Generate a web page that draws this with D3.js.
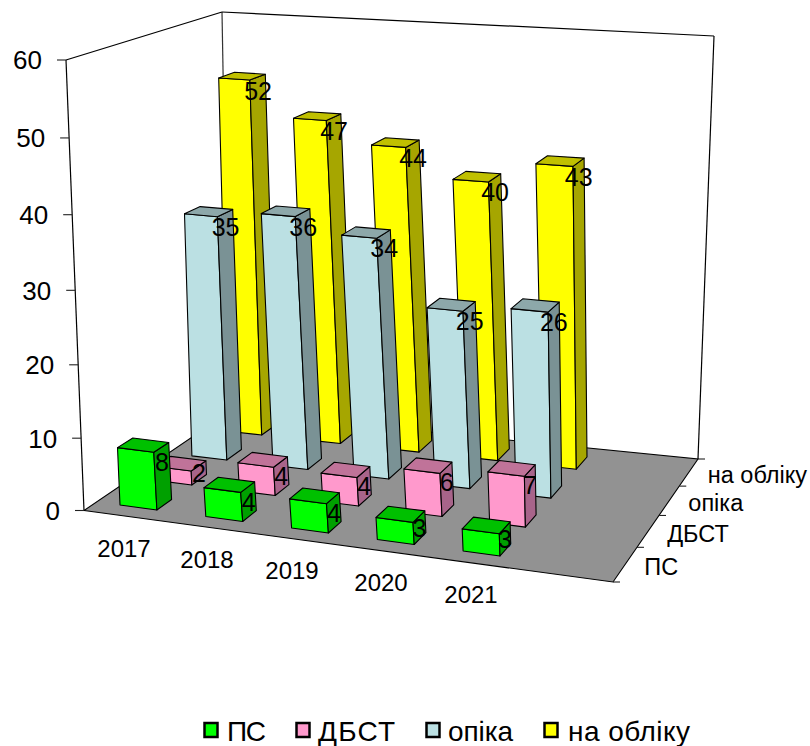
<!DOCTYPE html>
<html><head><meta charset="utf-8">
<script src="https://cdnjs.cloudflare.com/ajax/libs/d3/7.8.5/d3.min.js"></script>
<style>html,body{margin:0;padding:0;background:#fff}svg{display:block}text{font-family:"Liberation Sans",Arial,sans-serif;fill:#000}</style>
</head><body><svg id="c" width="810" height="746"></svg>
<script>
const categories=["2017","2018","2019","2020","2021"];
const seriesNames=["ПС","ДБСТ","опіка","на обліку"];
const psValues=[8,4,4,3,3];
const dbstValues=[2,4,4,6,7];
const opikaValues=[35,36,34,25,26];
const oblikValues=[52,47,44,40,43];
const yTicks=[0,10,20,30,40,50,60];
const allValues=[psValues,dbstValues,opikaValues,oblikValues];
const palette=[["#00ff00","#00c000","#00a000"],["#ff99cc","#c07399","#a8648a"],["#bbe0e3","#8da8aa","#7a9295"],["#ffff00","#c0c000","#a6a600"]];

function quadM(p){const [a,b,c,d]=p;
 const dx1=b[0]-c[0],dx2=d[0]-c[0],sx=a[0]-b[0]+c[0]-d[0],dy1=b[1]-c[1],dy2=d[1]-c[1],sy=a[1]-b[1]+c[1]-d[1];
 const den=dx1*dy2-dx2*dy1,g=(sx*dy2-dx2*sy)/den,h=(dx1*sy-sx*dy1)/den;
 return [b[0]-a[0]+g*b[0],d[0]-a[0]+h*d[0],a[0],b[1]-a[1]+g*b[1],d[1]-a[1]+h*d[1],a[1],g,h,1];}
const apply=(m,x,y)=>{const w=m[6]*x+m[7]*y+m[8];return [(m[0]*x+m[1]*y+m[2])/w,(m[3]*x+m[4]*y+m[5])/w];};
function inv(m){const [a,b,c,d,e,f,g,h,i]=m;return [e*i-f*h,c*h-b*i,b*f-c*e,f*g-d*i,a*i-c*g,c*d-a*f,d*h-e*g,b*g-a*h,a*e-b*d];}
const floorCorners=[[84,510.5],[613,582],[698,459],[229,412]];
const topCorners=[[66,60],[628,112],[714,36],[222,12]];
const barGridCorners=[[120,505],[500,556],[587,457],[243,421]];
const floorM=quadM(floorCorners),topM=quadM(topCorners),floorInv=inv(floorM);
const zScale=d3.scaleLinear().domain([0,60]).range([0,1]);
const persp=1.046;
function project(u,v,val){const w=zScale(val),t=w/(w+persp*(1-w)),a=apply(floorM,u,v),b=apply(topM,u,v);return [a[0]+(b[0]-a[0])*t,a[1]+(b[1]-a[1])*t];}
function grid(U,V){const [a,b,c,d]=barGridCorners;return [0,1].map(k=>(1-V)*((1-U)*a[k]+U*b[k])+V*((1-U)*d[k]+U*c[k]));}
function projectBar(U,V,val){const f=grid(U,V),q=apply(floorInv,f[0],f[1]);return project(q[0],q[1],val);}
const xBand=d3.scaleBand().domain(categories).range([0,1]).paddingInner(0.57).paddingOuter(0);
const dBand=d3.scaleBand().domain(seriesNames).range([0,1]).paddingInner(0.58).paddingOuter(0);
const svg=d3.select("#c");
const path=pts=>"M"+pts.map(p=>p.map(n=>n.toFixed(1)).join(",")).join("L")+"Z";
const line=(a,b,w=1.2,c="#000")=>svg.append("line").attr("x1",a[0]).attr("y1",a[1]).attr("x2",b[0]).attr("y2",b[1]).attr("stroke",c).attr("stroke-width",w);
line(project(0,0,0),project(0,0,60));line(project(0,1,0),project(0,1,60),1.2,"#333");line(project(1,1,0),project(1,1,60));
line(project(0,0,60),project(0,1,60));line(project(0,1,60),project(1,1,60));
svg.append("path").attr("d",path([project(0,0,0),project(1,0,0),project(1,1,0),project(0,1,0)])).attr("fill","#929292").attr("stroke","#000").attr("stroke-width",1.1);
yTicks.forEach(t=>{const p=project(0,0,t);line([p[0]-9,p[1]],p,1.1,"#222");
 svg.append("text").attr("x",p[0]-24).attr("y",p[1]).attr("dy","0.36em").attr("text-anchor","end").attr("font-size",26).text(t);});
d3.range(0,5).forEach(i=>{const p=project(1,i/4,0);line(p,[p[0]+7,p[1]],1.1,"#222");});
seriesNames.forEach((s,i)=>{const p=project(1,(i+.5)/4,0);
 svg.append("text").attr("x",p[0]+19).attr("y",p[1]+2).attr("dy","0.36em").attr("font-size",23.5).text(s);});
const catX=d3.scaleLinear().domain([0,1,2,3,4]).range([124,207,292,381,471]);
const catY=d3.scaleLinear().domain([0,1,2,3,4]).range([548,559,570,582,594]);
categories.forEach((c,i)=>svg.append("text").attr("x",catX(i)).attr("y",catY(i)).attr("dy","0.36em").attr("text-anchor","middle").attr("font-size",24).text(c));
const labels=[];
d3.range(3,-1,-1).forEach(si=>{const s=seriesNames[si],v0=dBand(s),v1=v0+dBand.bandwidth();
 categories.forEach((c,ci)=>{const val=allValues[si][ci],u0=xBand(c),u1=u0+xBand.bandwidth();
  const P=projectBar;
  const g=svg.append("g");
  const face=(pts,fill)=>g.append("path").attr("d",path(pts)).attr("fill",fill).attr("stroke","#000").attr("stroke-width",1.1).attr("stroke-linejoin","round");
  face([P(u0,v0,0),P(u1,v0,0),P(u1,v0,val),P(u0,v0,val)],palette[si][0]);
  face([P(u1,v0,0),P(u1,v1,0),P(u1,v1,val),P(u1,v0,val)],palette[si][2]);
  face([P(u0,v0,val),P(u1,v0,val),P(u1,v1,val),P(u0,v1,val)],palette[si][1]);
  labels.push({val,p:P(u1,(v0+v1)/2,val-Math.min(val/2,2))});
 });});
labels.forEach(l=>svg.append("text").attr("x",l.p[0]).attr("y",l.p[1]).attr("dy","0.36em").attr("text-anchor","middle").attr("font-size",25).text(l.val));
const legendSwatchX=[203,295,425,543],legendTextX=[227,318,448,568],legendWidths=[39,77,65,122];
seriesNames.forEach((s,i)=>{svg.append("rect").attr("x",legendSwatchX[i]+1.5).attr("y",723).attr("width",13).attr("height",14).attr("fill",palette[i][0]).attr("stroke","#000").attr("stroke-width",2.5);
 svg.append("text").attr("x",legendTextX[i]).attr("y",731).attr("dy","0.36em").attr("font-size",28).attr("textLength",legendWidths[i]).text(s);});
</script></body></html>
